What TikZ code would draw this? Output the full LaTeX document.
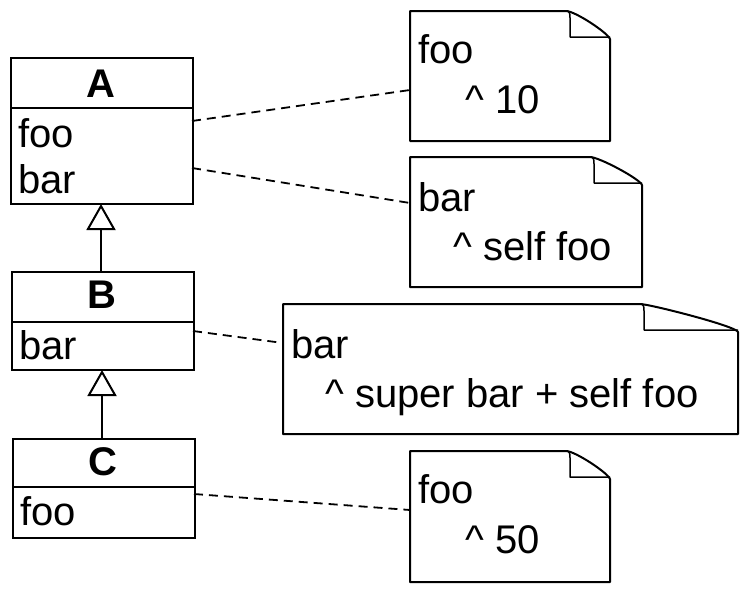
\documentclass[tikz,border=0pt]{standalone}
\usepackage{fontspec}
\setmainfont{Liberation Sans}
\usetikzlibrary{arrows.meta}
\begin{document}
\begin{tikzpicture}[x=1pt,y=-1pt,
  classbox/.style={draw,line width=2pt,inner sep=0pt,anchor=north west},
  divider/.style={line width=2pt},
  lbl/.style={inner sep=0pt,anchor=base west,font=\fontsize{40}{48}\selectfont},
  ttl/.style={inner sep=0pt,anchor=base,font=\fontsize{40}{48}\selectfont\bfseries},
  inherit/.style={line width=2pt,-{Triangle[open,length=26pt,width=29pt,line width=2pt]}},
  notelink/.style={line width=1.8pt,dash pattern=on 9pt off 6pt},
  noteline/.style={line width=2pt,line join=round}]
\useasboundingbox (0,0) rectangle (749,590);
% classes
\node[classbox,minimum width=182pt,minimum height=146pt] (A) at (10,57) {};
\draw[divider] (10,108) -- (192,108);
\node[ttl] (Atitle) at (101,97) {A};
\node[lbl] (Afoo) at (18,147) {foo};
\node[lbl] (Abar) at (18,193) {bar};
\node[classbox,minimum width=182pt,minimum height=98pt] (B) at (11,271) {};
\draw[divider] (11,322) -- (193,322);
\node[ttl] (Btitle) at (102,308) {B};
\node[lbl] (Bbar) at (19,359) {bar};
\node[classbox,minimum width=182pt,minimum height=99pt] (C) at (12,438) {};
\draw[divider] (12,487) -- (194,487);
\node[ttl] (Ctitle) at (103,475) {C};
\node[lbl] (Cfoo) at (20,525) {foo};
% inheritance
\coordinate (Atip) at (101,204);
\coordinate (Bbase) at (101,271);
\coordinate (Btip) at (102,370);
\coordinate (Cbase) at (102,438);
\draw[inherit] (Bbase) -- (Atip);
\draw[inherit] (Cbase) -- (Btip);
% notes: left right top bottom foldx foldy
\def\drawnote#1#2#3#4#5#6{%
  \draw[noteline,fill=white] (#1,#3) -- (#5-3,#3) .. controls (#5+6,#3) and (#2-2,#6-4) .. (#2,#6+2) -- (#2,#4) -- (#1,#4) -- cycle;
  \draw[line width=1.5pt,line join=round] (#5-3,#3) .. controls (#5+1,#3) and (#5+1,#3+3) .. (#5+1,#3+7) -- (#5+1,#6) -- (#2,#6);
}
\drawnote{410}{610}{11}{141}{569}{37}
\drawnote{410}{642}{157}{287}{593}{183}
\drawnote{283}{738}{304}{434}{643}{330}
\drawnote{410}{610}{451}{582}{569}{477}
\node[lbl] (N1a) at (418,63) {foo};
\node[lbl] (N1b) at (465,113) {\^{} 10};
\node[lbl] (N2a) at (418,211) {bar};
\node[lbl] (N2b) at (453,260) {\^{} self foo};
\node[lbl] (N3a) at (291,358) {bar};
\node[lbl] (N3b) at (325,407) {\^{} super bar + self foo};
\node[lbl] (N4a) at (418,503) {foo};
\node[lbl] (N4b) at (465,553) {\^{} 50};
% connectors
\coordinate (A1) at (192,121); \coordinate (N1) at (410,90);
\coordinate (A2) at (192,168); \coordinate (N2) at (410,203);
\coordinate (B1) at (193,331); \coordinate (N3) at (283,343);
\coordinate (C1) at (194,494); \coordinate (N4) at (410,510);
\draw[notelink] (A1) -- (N1);
\draw[notelink] (A2) -- (N2);
\draw[notelink] (B1) -- (N3);
\draw[notelink] (C1) -- (N4);
\end{tikzpicture}
\end{document}
